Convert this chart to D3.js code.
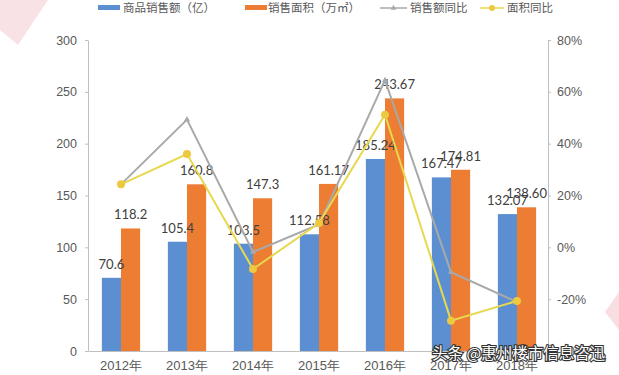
<!DOCTYPE html>
<html>
<head>
<meta charset="utf-8">
<script src="https://cdn.jsdelivr.net/npm/d3@7"></script>
<style>
  body { margin: 0; background: #fff; }
  svg { display: block; font-family: Lato, "Noto Sans CJK SC", sans-serif; }
</style>
</head>
<body>
<script>
// data
const years = ['2012年', '2013年', '2014年', '2015年', '2016年', '2017年', '2018年']
const salesValue = [70.6, 105.4, 103.5, 112.58, 185.24, 167.47, 132.07]
const salesLabels = ['70.6', '105.4', '103.5', '112.58', '185.24', '167.47', '132.07']
const areaValue = [118.2, 160.8, 147.3, 161.17, 243.67, 174.81, 138.60]
const areaLabels = ['118.2', '160.8', '147.3', '161.17', '243.67', '174.81', '138.60']
const salesYoY = [0.243, 0.493, -0.018, 0.088, 0.645, -0.096, -0.211]
const areaYoY = [0.243, 0.360, -0.084, 0.094, 0.512, -0.283, -0.207]
const leftTicks = [0, 50, 100, 150, 200, 250, 300]
const rightTicks = [-0.4, -0.2, 0, 0.2, 0.4, 0.6, 0.8]
const seriesNames = ['商品销售额（亿）', '销售面积（万㎡）', '销售额同比', '面积同比']

const blue = '#5b8fd1'
const orange = '#ec7d33'
const gray = '#a9a9a9'
const yellow = '#e7d84e'
const yellowDot = '#ecc93f'
const axisColor = '#bfbfbf'
const textColor = '#404040'

{
    let width = 619
    let height = 375
    let svg = d3.select('body').append('svg')
        .attr('width', width)
        .attr('height', height)

    // faint pink watermark shapes
    svg.append('polygon')
        .attr('points', '0,0 48,0 18,45 0,30')
        .attr('fill', '#f6d5da').attr('opacity', 0.7)
    svg.append('polygon')
        .attr('points', '619,292 605,312 619,330')
        .attr('fill', '#f6d5da').attr('opacity', 0.8)

    let x = d3.scaleBand().domain(years).range([88, 550])
        .paddingInner(0.42).paddingOuter(0.21)
    let xSub = d3.scaleBand().domain([0, 1]).range([0, x.bandwidth()])
    let yL = d3.scaleLinear().domain([0, 300]).range([351, 40])
    let yR = d3.scaleLinear().domain([-0.4, 0.8]).range([351, 40])

    // axes
    let gL = svg.append('g').attr('transform', 'translate(88,0)')
        .call(d3.axisLeft(yL).tickValues(leftTicks).tickSize(3).tickSizeOuter(0).tickPadding(8))
    let gR = svg.append('g').attr('transform', 'translate(548,0)')
        .call(d3.axisRight(yR).tickValues(rightTicks).tickSize(3).tickSizeOuter(0).tickPadding(6)
            .tickFormat(d => Math.round(d * 100) + '%'))
    let gB = svg.append('g').attr('transform', 'translate(0,351)')
        .call(d3.axisBottom(x).tickSize(0).tickSizeOuter(0).tickPadding(10))
    ;[gL, gR, gB].forEach(g => {
        g.selectAll('path, line').attr('stroke', axisColor)
        g.selectAll('text').attr('fill', '#595959').style('font-size', '12.5px')
    })
    gB.selectAll('text').style('font-size', '13px')

    // bars
    let groups = svg.append('g').selectAll('g').data(years)
        .enter().append('g')
        .attr('transform', d => `translate(${x(d)},0)`)
    groups.append('rect')
        .attr('x', xSub(0)).attr('width', xSub.bandwidth())
        .attr('y', (d, i) => yL(salesValue[i]))
        .attr('height', (d, i) => yL(0) - yL(salesValue[i]))
        .attr('fill', blue)
    groups.append('rect')
        .attr('x', xSub(1)).attr('width', xSub.bandwidth())
        .attr('y', (d, i) => yL(areaValue[i]))
        .attr('height', (d, i) => yL(0) - yL(areaValue[i]))
        .attr('fill', orange)

    // lines
    let cx = d => x(d) + x.bandwidth() / 2
    let line = d3.line().x(d => cx(d.year)).y(d => yR(d.v))
    let sPts = years.map((y, i) => ({year: y, v: salesYoY[i]}))
    let aPts = years.map((y, i) => ({year: y, v: areaYoY[i]}))
    svg.append('path').attr('d', line(sPts))
        .attr('stroke', gray).attr('stroke-width', 2).attr('fill', 'none')
    svg.append('g').selectAll('path').data(sPts).enter().append('path')
        .attr('d', d3.symbol(d3.symbolTriangle, 16))
        .attr('transform', d => `translate(${cx(d.year)},${yR(d.v)})`)
        .attr('fill', gray)
    svg.append('path').attr('d', line(aPts))
        .attr('stroke', yellow).attr('stroke-width', 2).attr('fill', 'none')
    svg.append('g').selectAll('circle').data(aPts).enter().append('circle')
        .attr('cx', d => cx(d.year)).attr('cy', d => yR(d.v)).attr('r', 4)
        .attr('fill', yellowDot)

    // data labels
    groups.append('text')
        .attr('x', xSub(0) + xSub.bandwidth() / 2)
        .attr('y', (d, i) => yL(salesValue[i]) - 9)
        .attr('text-anchor', 'middle').attr('fill', textColor)
        .style('font-size', '13px')
        .text((d, i) => salesLabels[i])
    groups.append('text')
        .attr('x', xSub(1) + xSub.bandwidth() / 2)
        .attr('y', (d, i) => yL(areaValue[i]) - 9)
        .attr('text-anchor', 'middle').attr('fill', textColor)
        .style('font-size', '13px')
        .text((d, i) => areaLabels[i])

    // legend
    let legend = svg.append('g').style('font-family', '"Noto Sans CJK SC", sans-serif')
        .style('font-size', '11.5px').attr('fill', '#595959')
    let lx = [98, 245, 380, 480]
    legend.append('rect').attr('x', lx[0]).attr('y', 5).attr('width', 22).attr('height', 5).attr('fill', blue)
    legend.append('rect').attr('x', lx[1]).attr('y', 5).attr('width', 22).attr('height', 5).attr('fill', orange)
    legend.append('line').attr('x1', lx[2]).attr('x2', lx[2] + 27).attr('y1', 8).attr('y2', 8)
        .attr('stroke', gray).attr('stroke-width', 1.5)
    legend.append('path').attr('d', d3.symbol(d3.symbolTriangle, 14))
        .attr('transform', `translate(${lx[2] + 13.5},8)`).attr('fill', gray)
    legend.append('line').attr('x1', lx[3]).attr('x2', lx[3] + 24).attr('y1', 8).attr('y2', 8)
        .attr('stroke', yellow).attr('stroke-width', 1.5)
    legend.append('circle').attr('cx', lx[3] + 12).attr('cy', 8).attr('r', 3).attr('fill', yellowDot)
    let tx = [123, 268, 410, 507]
    legend.selectAll('text').data(seriesNames).enter().append('text')
        .attr('x', (d, i) => tx[i]).attr('y', 12)
        .text(d => d)

    // source watermark
    svg.append('text')
        .attr('x', 432).attr('y', 359)
        .style('font-family', '"Noto Sans CJK SC", sans-serif')
        .style('font-size', '15.5px')
        .attr('fill', '#fff').attr('stroke', '#333').attr('stroke-width', 2.2)
        .attr('paint-order', 'stroke')
        .text('头条 @惠州楼市信息咨迅')
}
</script>
</body>
</html>
